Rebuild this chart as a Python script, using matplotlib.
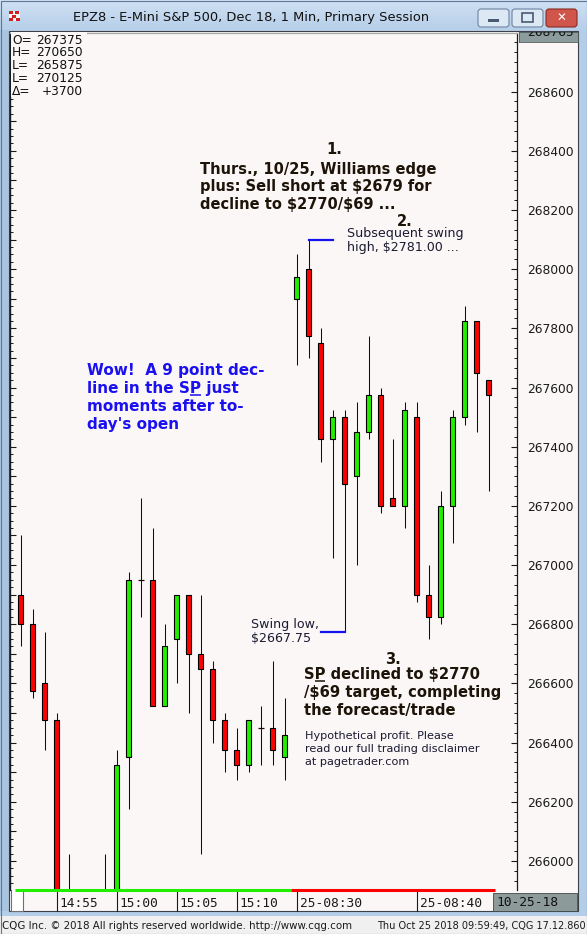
import matplotlib
matplotlib.use('Agg')
import numpy as np
import matplotlib.pyplot as plt
from matplotlib.patches import Rectangle, FancyBboxPatch
from matplotlib.ticker import MultipleLocator
import matplotlib.transforms as mtransforms

plt.rcParams['text.parse_math'] = False

# ---------------- data ----------------
opens = [266900, 266800, 266600, 266475, 265875, 265800, 265700, 265750, 265850, 266350,
         266950, 266950, 266525, 266750, 266900, 266700, 266650, 266475, 266375, 266325,
         266450, 266450, 266350, 267900, 268000, 267750, 267425, 267500, 267300, 267450,
         267575, 267225, 267200, 267500, 266900, 266825, 267200, 267500, 267825, 267625]
highs = [267100, 266850, 266775, 266500, 266025, 265850, 265800, 266025, 266375, 266975,
         267225, 267125, 266800, 266900, 266900, 266900, 266675, 266500, 266450, 266475,
         266525, 266675, 266550, 268050, 268100, 267800, 267525, 267525, 267550, 267775,
         267600, 267425, 267550, 267550, 267000, 267250, 267525, 267875, 267825, 267625]
lows = [266725, 266550, 266375, 265750, 265700, 265650, 265600, 265700, 265800, 266175,
        266825, 266525, 266525, 266600, 266500, 266025, 266400, 266300, 266275, 266300,
        266325, 266325, 266275, 267675, 267700, 267350, 267025, 266775, 267000, 267425,
        267175, 267200, 267125, 266875, 266750, 266800, 267075, 267475, 267450, 267250]
closes = [266800, 266575, 266475, 265825, 265750, 265700, 265750, 265850, 266325, 266950,
          266950, 266525, 266725, 266900, 266700, 266650, 266475, 266375, 266325, 266475,
          266450, 266375, 266425, 267975, 267775, 267425, 267500, 267275, 267450, 267575,
          267200, 267200, 267525, 266900, 266825, 267200, 267500, 267825, 267650, 267575]
session_split = 23              # first bar of 10/25 session
x_labels = ['14:55', '15:00', '15:05', '15:10', '25-08:30', '25-08:40']
x_label_bars = [3, 8, 13, 18, 23, 33]
y_major = list(range(266000, 268601, 200))
info_names = ['O=', 'H=', 'L=', 'L=', '\u0394=']
info_values = ['267375', '270650', '265875', '270125', '+3700']
swing_high_bar, swing_low_bar = 24, 27

# ---------------- figure ----------------
W, H = 587, 934
BG = '#fbf7f7'
fig = plt.figure(figsize=(W / 100, H / 100), dpi=100, facecolor='#b9d1ea')

ax_bg = fig.add_axes([0, 0, 1, 1], zorder=0)
ax_bg.set_xlim(0, W); ax_bg.set_ylim(H, 0); ax_bg.axis('off')

# window chrome
grad = np.linspace(0, 1, 30).reshape(-1, 1)
ax_bg.imshow(grad, extent=[0, W, 30, 0], aspect='auto',
             cmap=matplotlib.colors.LinearSegmentedColormap.from_list('t', ['#cfe0f3', '#b7cfe9']), zorder=0)
ax_bg.add_patch(Rectangle((0, 30), 9, 886, facecolor='#a9c4e0', edgecolor='none', zorder=0))
ax_bg.add_patch(Rectangle((578, 30), 9, 886, facecolor='#b4cde8', edgecolor='none', zorder=0))
ax_bg.add_patch(Rectangle((0, 911), W, 5, facecolor='#b4cde8', edgecolor='none', zorder=0))
ax_bg.add_patch(Rectangle((0, 916), W, 18, facecolor='#f0f0f0', edgecolor='none', zorder=0))
ax_bg.add_patch(Rectangle((9, 31), 569, 880, facecolor=BG, edgecolor='#3c4048', lw=0.8, zorder=1))
ax_bg.add_patch(Rectangle((0.5, 0.5), W - 1, H - 1, facecolor='none', edgecolor='#5f7592', lw=0.8, zorder=5))

# title
ax_bg.text(251, 18, 'EPZ8 - E-Mini S&P 500, Dec 18, 1 Min, Primary Session', ha='center', va='center',
           fontsize=9.4, family='DejaVu Sans', color='#111111', zorder=6)
# icon
ax_bg.add_patch(Rectangle((9, 11), 11, 10, facecolor='#f4f4f4', edgecolor='none', zorder=6))
for (ix, iy) in [(9, 11), (15, 11), (12, 15), (9, 18), (16, 18)]:
    ax_bg.add_patch(Rectangle((ix, iy), 4, 3, facecolor='#d02020', edgecolor='none', zorder=7))
# buttons
for bx, face, edge in [(478, '#dde8f5', '#6d84a2'), (512, '#dde8f5', '#6d84a2'), (546, '#d0554a', '#8a2a22')]:
    ax_bg.add_patch(FancyBboxPatch((bx, 9), 31, 18, boxstyle='round,pad=0,rounding_size=3',
                                   facecolor=face, edgecolor=edge, lw=0.8, zorder=6))
ax_bg.add_patch(Rectangle((488, 19), 11, 3, facecolor='#4a5a70', edgecolor='none', zorder=7))
ax_bg.add_patch(Rectangle((522, 13), 11, 9, facecolor='none', edgecolor='#4a5a70', lw=1.2, zorder=7))
ax_bg.text(561.5, 18, '\u2715', ha='center', va='center', fontsize=8.5, color='white',
           fontweight='bold', zorder=7)

# status bar
ax_bg.text(2, 926, 'CQG Inc. \u00a9 2018 All rights reserved worldwide. http://www.cqg.com',
           ha='left', va='center', fontsize=7.35, color='#1a1a1a', zorder=6)
ax_bg.text(586, 926, 'Thu Oct 25 2018 09:59:49, CQG 17.12.860',
           ha='right', va='center', fontsize=7.0, color='#1a1a1a', zorder=6)

# date box
ax_bg.add_patch(Rectangle((493, 893), 84, 18, facecolor='#8d9a9a', edgecolor='#404848', lw=0.6, zorder=6))
ax_bg.text(496, 902.5, '10-25-18', ha='left', va='center', fontsize=9.3,
           family='DejaVu Sans Mono', color='#101010', zorder=7)
# small box bottom-left
ax_bg.add_patch(Rectangle((11, 888), 12, 23, facecolor='white', edgecolor='#707070', lw=0.8, zorder=6))

# top-right price box (text clipped by its own small axes)
ax_box = fig.add_axes([519 / W, (H - 41.5) / H, 59 / W, 9.5 / H], zorder=3)
ax_box.set_xlim(0, 59); ax_box.set_ylim(9.5, 0)
ax_box.set_facecolor('#8c9b9b')
ax_box.set_xticks([]); ax_box.set_yticks([])
for s in ax_box.spines.values():
    s.set_color('#505a5a'); s.set_linewidth(0.6)
ax_box.text(8, 0, '268765', ha='left', va='center', fontsize=8.8, color='#111111', clip_on=True)

# ---------------- main chart ----------------
ax = fig.add_axes([10 / W, (H - 890) / H, (517 - 10) / W, (890 - 33) / H], zorder=2)
ax.set_facecolor(BG)
ax.set_xlim(-0.892, 41.36)
ax.set_ylim(265902, 268798)

x = np.arange(len(opens))
o = np.array(opens); c = np.array(closes); h = np.array(highs); l = np.array(lows)
ax.vlines(x, l, h, color='#1e0808', lw=0.75, zorder=2)
up = c > o; dn = c < o; dj = c == o
ax.bar(x[up], (c - o)[up], bottom=o[up], width=0.38, color='#22ee00', edgecolor='#000000', lw=0.8, zorder=3)
ax.bar(x[dn], (o - c)[dn], bottom=c[dn], width=0.38, color='#ff0000', edgecolor='#000000', lw=0.8, zorder=3)
ax.hlines(o[dj], x[dj] - 0.26, x[dj] + 0.26, color='#1e0808', lw=0.9, zorder=3)

# swing connectors
ax.plot([swing_high_bar, swing_high_bar + 2.05], [highs[swing_high_bar]] * 2, color='#1414ee', lw=1.6, zorder=4)
ax.plot([swing_low_bar - 2.0, swing_low_bar], [lows[swing_low_bar]] * 2, color='#1414ee', lw=1.6, zorder=4)

# axes styling
for s in ['left', 'right']:
    ax.spines[s].set_color('#1a1a1a'); ax.spines[s].set_linewidth(0.9)
ax.spines['top'].set_color('#a8a8a8'); ax.spines['top'].set_linewidth(0.9)
ax.spines['bottom'].set_visible(False)
ax.set_xticks([])
ax.yaxis.tick_right()
ax.set_yticks(y_major)
ax.yaxis.set_minor_locator(MultipleLocator(200 / 6))
ax.tick_params(axis='y', which='major', direction='in', length=4.5, width=0.8, color='#1a1a1a',
               right=True, left=False, labelright=True, labelleft=False, pad=7.3,
               labelsize=8.8, labelcolor='#1a1a1a')
ax.tick_params(axis='y', which='minor', direction='in', length=2.2, width=0.7, color='#1a1a1a',
               right=True, left=False)

sec = ax.secondary_yaxis('left')
sec.yaxis.set_major_locator(MultipleLocator(100))
sec.yaxis.set_minor_locator(MultipleLocator(25))
sec.tick_params(which='major', direction='in', length=4, width=0.8, color='#1a1a1a', labelleft=False)
sec.tick_params(which='minor', direction='in', length=2, width=0.7, color='#1a1a1a')
sec.spines['left'].set_color('#1a1a1a')

# bottom session bar and time labels
blend = mtransforms.blended_transform_factory(ax.transData, ax.transAxes)
ax.plot([-0.5, session_split - 0.5], [0, 0], transform=blend, color='#22ee00', lw=2.2,
        clip_on=False, solid_capstyle='butt', zorder=5)
ax.plot([session_split - 0.5, len(opens) - 0.5], [0, 0], transform=blend, color='#ff0000', lw=2.2,
        clip_on=False, solid_capstyle='butt', zorder=5)
for lab, b in zip(x_labels, x_label_bars):
    ax.plot([b, b], [-0.002, -0.024], transform=blend, color='#1a1a1a', lw=0.8, clip_on=False)
    ax.text(b + 0.25, -0.0152, lab, transform=blend, ha='left', va='center', fontsize=9.3,
            family='DejaVu Sans Mono', color='#1a1a1a', clip_on=False)

# ---------------- overlay text ----------------
fg = fig.add_axes([0, 0, 1, 1], zorder=5)
fg.set_xlim(0, W); fg.set_ylim(H, 0); fg.axis('off')
fg.patch.set_alpha(0)

# info box
fg.add_patch(Rectangle((11, 31.5), 76, 65, facecolor=BG, edgecolor='none'))
for k, (nm, val) in enumerate(zip(info_names, info_values)):
    yy = 40 + k * 12.8
    fg.text(12, yy, nm, ha='left', va='center', fontsize=8.8, color='#111111')
    fg.text(83, yy, val, ha='right', va='center', fontsize=8.8, color='#111111')

ANN = '#1c1408'
BOLD = dict(fontsize=10.5, fontweight='bold', family='DejaVu Sans', color=ANN)
fg.text(334, 150, '1.', ha='center', va='center', **BOLD)
for k, line in enumerate(['Thurs., 10/25, Williams edge', 'plus: Sell short at $2679 for',
                          'decline to $2770/$69 ...']):
    fg.text(200, 169.3 + k * 17.4, line, ha='left', va='center', **BOLD)
fg.text(405, 221, '2.', ha='center', va='center', **BOLD)

REG = dict(fontsize=9.1, family='DejaVu Sans', color='#1a1a30')
fg.text(347, 233.5, 'Subsequent swing', ha='left', va='center', **REG)
fg.text(347, 247, 'high, $2781.00 ...', ha='left', va='center', **REG)
fg.text(251, 624.5, 'Swing low,', ha='left', va='center', **REG)
fg.text(251, 638.5, '$2667.75', ha='left', va='center', **REG)

BLUE = dict(fontsize=11, fontweight='bold', family='DejaVu Sans', color='#1a10f0')
blue_lines = ['Wow!  A 9 point dec-', 'line in the SP just', 'moments after to-', "day's open"]
blue_base = [375.5, 393, 411, 428.5]
for line, yb in zip(blue_lines, blue_base):
    fg.text(87, yb, line, ha='left', va='baseline', **BLUE)

B3 = dict(BOLD, fontsize=10.6)
fg.text(393, 659, '3.', ha='center', va='center', **B3)
sp_lines = ['SP declined to $2770', '/$69 target, completing', 'the forecast/trade']
sp_base = [679, 697, 715]
for line, yb in zip(sp_lines, sp_base):
    fg.text(304, yb, line, ha='left', va='baseline', **B3)

SM = dict(fontsize=8.1, family='DejaVu Sans', color='#1a1a30')
for k, line in enumerate(['Hypothetical profit. Please', 'read our full trading disclaimer',
                          'at pagetrader.com']):
    fg.text(305, 736 + k * 13.2, line, ha='left', va='center', **SM)

# underline the "P" of "SP"
renderer = fig.canvas.get_renderer()
inv = fg.transData.inverted()


def underline(x0, yb, before, props, color):
    t1 = fg.text(x0, yb, before + 'S', ha='left', va='baseline', **props)
    t2 = fg.text(x0, yb, before + 'SP', ha='left', va='baseline', **props)
    e1 = t1.get_window_extent(renderer); e2 = t2.get_window_extent(renderer)
    t1.remove(); t2.remove()
    xa = inv.transform((e1.x1, 0))[0]; xb = inv.transform((e2.x1, 0))[0]
    fg.plot([xa + 0.5, xb - 0.5], [yb + 2.2, yb + 2.2], color=color, lw=1.1, solid_capstyle='butt')


underline(87, blue_base[1], 'line in the ', BLUE, '#1a10f0')
underline(304, sp_base[0], '', B3, ANN)

fig.savefig('out.png', dpi=100, facecolor=fig.get_facecolor())
